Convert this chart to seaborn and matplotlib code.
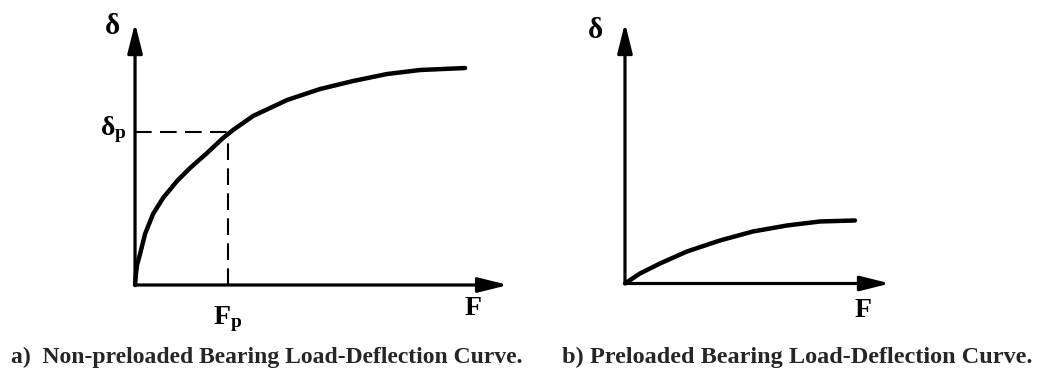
import numpy as np
import matplotlib
matplotlib.use("Agg")
import matplotlib.pyplot as plt
import seaborn as sns

# Non-preloaded bearing: load F vs deflection delta (arbitrary units)
force_a = [0, 0.1, 0.2, 0.5, 1.0, 1.8, 2.8, 4.2, 5.5, 7.2, 8.8, 9.8,
           11.8, 15.2, 18.5, 21.8, 25.2, 28.5, 33.0]
defl_a = [0, 1.2, 2.0, 3.1, 5.1, 7.1, 8.7, 10.4, 11.7, 13.2, 14.7, 15.5,
          16.9, 18.5, 19.6, 20.4, 21.1, 21.5, 21.7]
preload_force = 9.3
preload_defl = 15.3

# Preloaded bearing: load F vs deflection delta
force_b = [0, 1.5, 3.5, 6.2, 9.5, 12.8, 16.2, 19.5, 23.0]
defl_b = [0, 1.0, 2.0, 3.2, 4.3, 5.2, 5.8, 6.2, 6.3]

captions = ["a)  Non-preloaded Bearing Load-Deflection Curve.",
            "b) Preloaded Bearing Load-Deflection Curve."]

sns.set_theme(style="white")
plt.rcParams["font.family"] = ["Liberation Serif", "DejaVu Serif"]
plt.rcParams["font.weight"] = "bold"
plt.rcParams["mathtext.fontset"] = "custom"
plt.rcParams["mathtext.rm"] = "Liberation Serif:bold"
plt.rcParams["mathtext.it"] = "Liberation Serif:bold"

fig = plt.figure(figsize=(10.55, 3.73), dpi=100)
fig.patch.set_facecolor("white")

ax_a = fig.add_axes([0.128, 0.2359, 0.3536, 0.7024])
ax_b = fig.add_axes([0.5924, 0.2400, 0.2512, 0.6984])


def draw_axes_arrows(ax, xmax, ymax):
    ax.set_xlim(0, xmax)
    ax.set_ylim(0, ymax)
    ax.set_axis_off()
    style = "-|>,head_length=1.0,head_width=0.25"
    for tip in [(xmax, 0), (0, ymax)]:
        ax.annotate("", xy=tip, xytext=(0, 0),
                    arrowprops=dict(arrowstyle=style, mutation_scale=18,
                                    lw=2.3, color="black",
                                    shrinkA=0, shrinkB=0),
                    annotation_clip=False)


draw_axes_arrows(ax_a, 37.3, 26.2)
draw_axes_arrows(ax_b, 26.5, 26.05)

for ax, fx, dy in [(ax_a, force_a, defl_a), (ax_b, force_b, defl_b)]:
    sns.lineplot(x=fx, y=dy, ax=ax, color="black", lw=3.2, sort=False,
                 clip_on=False, solid_joinstyle="round",
                 solid_capstyle="round")

# Dashed guides marking the preload point
ax_a.plot([0, preload_force], [preload_defl, preload_defl], color="black",
          lw=1.5, dashes=(8, 4))
ax_a.plot([preload_force, preload_force], [0, preload_defl], color="black",
          lw=1.5, dashes=(8, 4))

lab = dict(ha="center", va="center", color="black", fontweight="bold")
ax_a.text(-2.3, 25.9, "δ", fontsize=21, **lab)
ax_a.text(-2.2, 15.5, r"$\delta_\mathrm{p}$", fontsize=20, **lab)
ax_a.text(preload_force, -3.4, r"$\mathrm{F_p}$", fontsize=20, **lab)
ax_a.text(33.8, -2.3, "F", fontsize=20, **lab)

ax_b.text(-2.9, 25.3, "δ", fontsize=21, **lab)
ax_b.text(23.8, -2.75, "F", fontsize=20, **lab)

fig.text(0.0105, 0.043, captions[0], fontsize=17, ha="left", va="center",
         fontweight="bold")
fig.text(0.5327, 0.043, captions[1], fontsize=17.5, ha="left", va="center",
         fontweight="bold")

fig.savefig("out.png", dpi=100, facecolor="white")
